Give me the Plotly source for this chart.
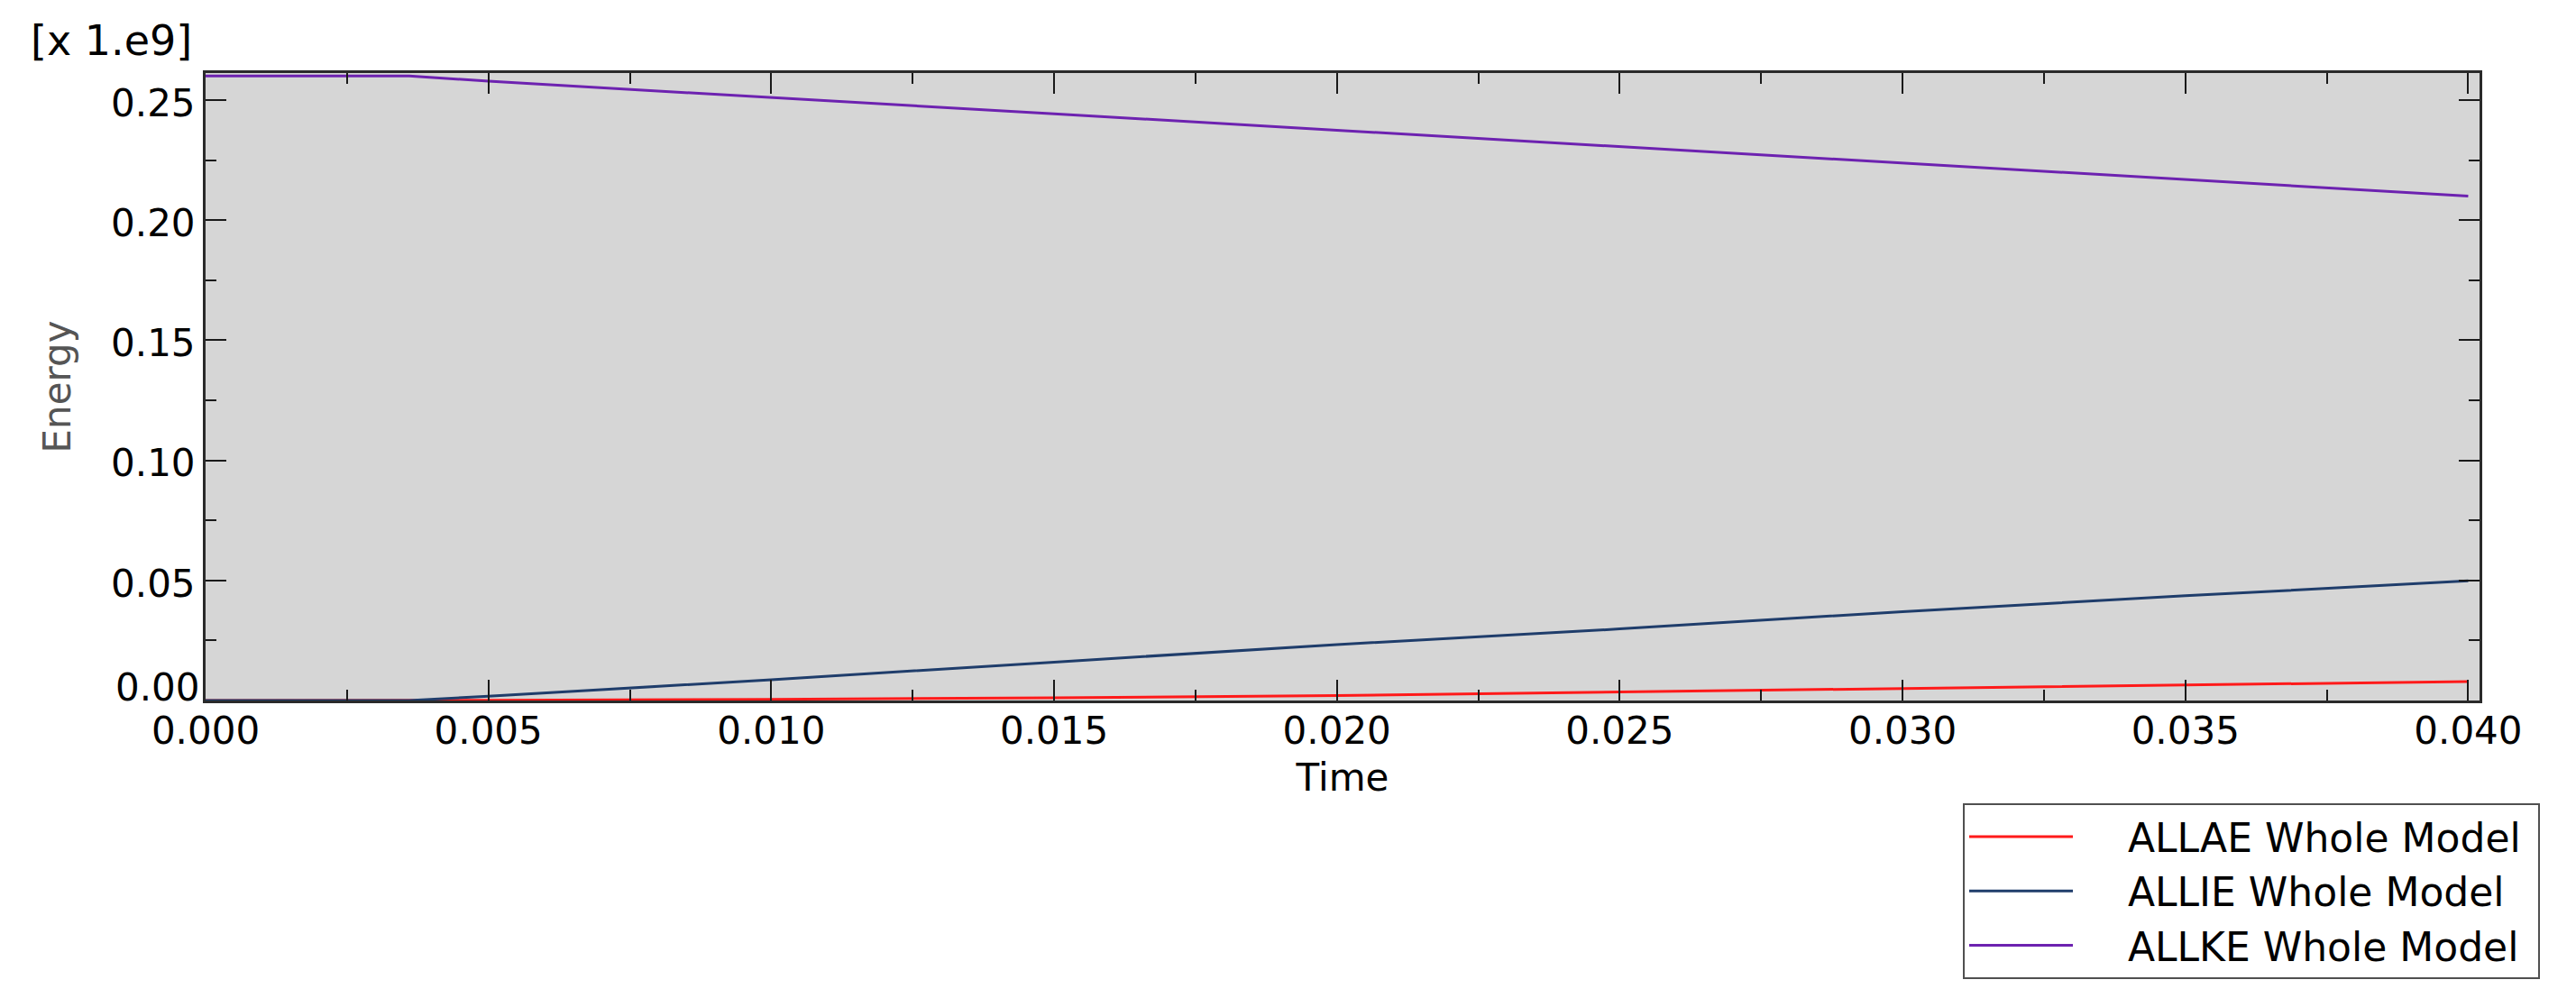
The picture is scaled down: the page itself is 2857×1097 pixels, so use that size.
import plotly.graph_objects as go

# ---- data ----
time = [0.0, 0.0036, 0.005, 0.010, 0.015, 0.020, 0.025, 0.030, 0.035, 0.040]
allae = [0.0, 0.0, 0.0001, 0.0005, 0.0011, 0.0021, 0.0036, 0.0051, 0.0066, 0.0079]
allie = [0.0, 0.0, 0.0018, 0.0086, 0.0160, 0.0233, 0.0298, 0.0370, 0.0436, 0.0498]
allke = [0.2601, 0.2601, 0.2579, 0.2512, 0.2443, 0.2375, 0.2307, 0.2238, 0.2170, 0.2101]

series_names = ["ALLAE Whole Model", "ALLIE Whole Model", "ALLKE Whole Model"]
series_colors = ["#ff1a1a", "#1f3d6b", "#6d22b0"]

y_tick_values = [0.0, 0.05, 0.10, 0.15, 0.20, 0.25]
y_tick_labels = ["0.00", "0.05", "0.10", "0.15", "0.20", "0.25"]

x_title = "Time"
y_title = "Energy"
y_scale_label = "[x 1.e9]"

FONT = "DejaVu Sans, Verdana, sans-serif"
NB = "\u00a0"

fig = go.Figure()
for name, vals, col in zip(series_names, [allae, allie, allke], series_colors):
    fig.add_trace(go.Scatter(x=time, y=vals, mode="lines", name=NB * 4 + name + NB,
                             line=dict(color=col, width=3)))

# page body has an 8px margin: size the figure so it fills the window exactly
OFF = 8
W, H = 2857 - OFF, 1097 - OFF
ml, mt = 228 - OFF, 81 - OFF
plot_r, plot_b = 2750 - OFF, 777 - OFF
mr, mb = W - plot_r, H - plot_b
PW, PH = W - ml - mr, H - mt - mb

axis_common = dict(
    showgrid=False, zeroline=False,
    showline=True, linecolor="#2a2a2a", linewidth=3, mirror="ticks",
    ticks="inside", ticklen=23, tickwidth=2, tickcolor="#1a1a1a",
    tickfont=dict(family=FONT, size=42, color="black"),
)

fig.update_layout(
    width=W, height=H,
    margin=dict(l=ml, r=mr, t=mt, b=mb, autoexpand=False),
    paper_bgcolor="white", plot_bgcolor="#d6d6d6",
    font=dict(family=FONT, size=42, color="black"),
    showlegend=True,
    legend=dict(
        x=(2177 - OFF - ml) / PW, y=(plot_b - (891 - OFF)) / PH,
        xanchor="left", yanchor="top",
        bgcolor="white", bordercolor="#505050", borderwidth=2,
        font=dict(family=FONT, size=44, color="black"),
        itemwidth=115, tracegroupgap=0,
    ),
    xaxis=dict(
        range=[0, 0.0402], dtick=0.005, tick0=0, tickformat=".3f",
        ticklabelstandoff=-5,
        minor=dict(ticks="inside", ticklen=12, tickwidth=2, tickcolor="#1a1a1a", dtick=0.0025),
        title=dict(text=x_title, font=dict(family=FONT, size=42, color="black"), standoff=14),
        **axis_common,
    ),
    yaxis=dict(
        range=[0, 0.2613],
        tickmode="array", tickvals=y_tick_values[1:], ticktext=y_tick_labels[1:],
        ticklabelshift=3,
        minor=dict(ticks="inside", ticklen=12, tickwidth=2, tickcolor="#1a1a1a",
                   tickmode="linear", tick0=0, dtick=0.025),
        title=dict(text=y_title, font=dict(family=FONT, size=42, color="#555555"), standoff=32),
        **axis_common,
    ),
    annotations=[
        dict(text=y_scale_label, xref="paper", yref="paper",
             x=(215 - OFF - ml) / PW, y=(plot_b - (45 - OFF)) / PH,
             xanchor="right", yanchor="middle", showarrow=False,
             font=dict(family=FONT, size=46, color="black")),
        # the 0.00 label sits above the axis corner, as in the reference
        dict(text=y_tick_labels[0], xref="paper", yref="y",
             x=0, y=y_tick_values[0], xanchor="right", yanchor="bottom",
             xshift=-4, yshift=-12, showarrow=False,
             font=dict(family=FONT, size=42, color="black")),
    ],
)

fig.write_html("out.html")
